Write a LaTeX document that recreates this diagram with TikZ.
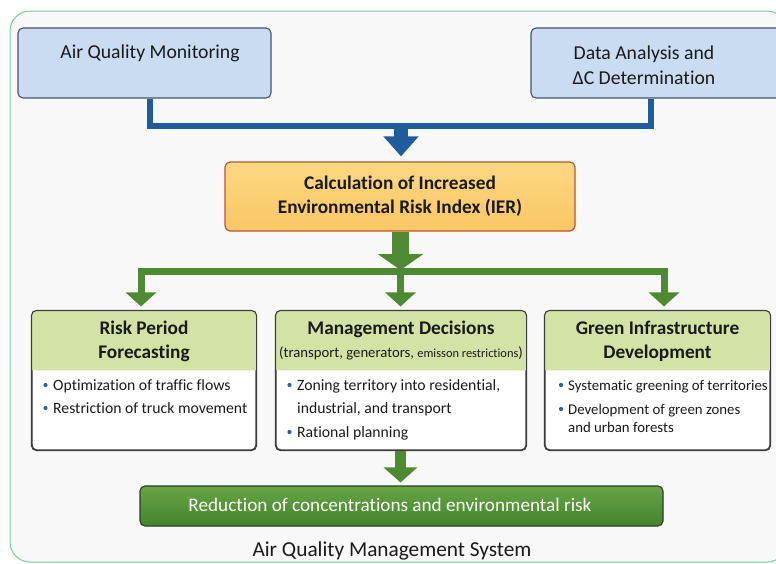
\documentclass[tikz,border=0pt]{standalone}
\usepackage{fontspec}
\setmainfont{Carlito}[Ligatures=NoCommon]
\usetikzlibrary{arrows.meta,calc}
\definecolor{bluefill}{HTML}{C9DCF2}
\definecolor{bluebord}{HTML}{465363}
\definecolor{blueline}{HTML}{1E5C9E}
\definecolor{iertop}{HTML}{FCD882}
\definecolor{ierbot}{HTML}{F9C664}
\definecolor{ierbord}{HTML}{C0522E}
\definecolor{gline}{HTML}{4E8A31}
\definecolor{hdr}{HTML}{D3E3A6}
\definecolor{redtop}{HTML}{66A545}
\definecolor{redbot}{HTML}{44842C}
\definecolor{redbord}{HTML}{2B3F1F}
\definecolor{framec}{HTML}{76D196}
\definecolor{bgc}{HTML}{F8F8F8}
\definecolor{bul}{HTML}{2F5F9E}
\definecolor{txtc}{HTML}{1A1A1A}
\tikzset{
  bluebox/.style={draw=bluebord, line width=1.1pt, fill=bluefill, rounded corners=5pt, inner sep=0pt},
  ierbox/.style={draw=ierbord, line width=1.2pt, top color=iertop, bottom color=ierbot, rounded corners=5pt, inner sep=0pt},
  wbox/.style={draw=txtc!85, line width=1.1pt, fill=white, rounded corners=5pt, inner sep=0pt, minimum height=139pt},
  redbox/.style={draw=redbord, line width=1.1pt, top color=redtop, bottom color=redbot, rounded corners=5pt, inner sep=0pt},
  txt/.style={text=txtc, inner sep=0pt, align=center},
  bigt/.style={txt, font=\fontsize{19.7}{25}\selectfont},
  headt/.style={txt, font=\bfseries\fontsize{19.3}{24}\selectfont},
  bult/.style={text=txtc, inner sep=0pt, anchor=base west, font=\fontsize{15.7}{17}\selectfont},
  bultr/.style={bult, font=\fontsize{14.8}{17}\selectfont},
  bdot/.style={circle, fill=bul, inner sep=0pt, minimum size=4.2pt},
  bluebar/.style={draw=blueline, line width=6pt},
  gbar/.style={draw=gline, line width=7pt},
}
\begin{document}
\begin{tikzpicture}[x=1pt,y=-1pt]
\useasboundingbox (0,0) rectangle (776,563);
\fill[white] (0,0) rectangle (776,563);
\draw[framec, line width=1pt, fill=bgc, rounded corners=20pt] (10,11) rectangle (787,562);

% top boxes
\node[bluebox, minimum width=253pt, minimum height=70pt] (aqm) at (144.5,63) {};
\node[bigt] (aqmt) at (150,53) {Air Quality Monitoring};
\node[bluebox, minimum width=259pt, minimum height=70pt] (dat) at (660.5,63) {};
\node[bigt] (datt) at (644,65) {Data Analysis and\\ΔC Determination};

% IER
\node[ierbox, minimum width=350pt, minimum height=69pt] (ier) at (400,196.5) {};
\node[headt] (iert) at (400,196) {Calculation of Increased\\Environmental Risk Index (IER)};

% blue connector
\coordinate (bj) at (401,125.5);
\draw[bluebar] ([xshift=5.5pt]aqm.south) |- (bj) -| ([xshift=-9.5pt]dat.south);
\draw[draw=blueline, line width=14pt, -{Triangle[width=34pt,length=20pt]}, shorten >=5pt] (bj) -- (bj |- ier.north);

% three boxes
\node[wbox, minimum width=224pt] (rp) at (144,380.5) {};
\node[wbox, minimum width=250pt] (md) at (401,380.5) {};
\node[wbox, minimum width=225pt] (gi) at (657.5,380.5) {};
\foreach \b in {rp,md,gi}{
  \fill[hdr] ([yshift=-60pt]\b.north west) [rounded corners=5pt] -- (\b.north west) -- (\b.north east) [sharp corners] -- ([yshift=-60pt]\b.north east) -- cycle;
  \draw[txtc!85, line width=1.1pt, rounded corners=5pt] (\b.north west) rectangle (\b.south east);
}
\node[headt] (rpt) at (144,341) {Risk Period\\Forecasting};
\node[headt] (mdt) at (401,329) {Management Decisions};
\node[txt, font=\fontsize{14.7}{17}\selectfont] (mds) at (401,353) {(transport, generators, {\fontsize{12.4}{14}\selectfont emisson restrictions})};
\node[headt] (git) at (657.5,341) {Green Infrastructure\\Development};

% bullets left
\node[bdot] (b1) at (45.5,385) {};
\node[bult] (l1) at (53,390) {Optimization of traffic flows};
\node[bdot] (b2) at (45.5,408) {};
\node[bult] (l2) at (53,413) {Restriction of truck movement};
% bullets middle
\node[bdot] (b3) at (289.5,385) {};
\node[bult] (m1) at (297,390) {Zoning territory into residential,};
\node[bult] (m2) at (297,413.5) {industrial, and transport};
\node[bdot] (b4) at (289.5,432) {};
\node[bult] (m3) at (297,437) {Rational planning};
% bullets right
\node[bdot] (b5) at (561,385) {};
\node[bultr] (r1) at (568,390) {Systematic greening of territories};
\node[bdot] (b6) at (561,409) {};
\node[bultr] (r2) at (568,414) {Development of green zones};
\node[bultr] (r3) at (568,432) {and urban forests};

% green connectors
\coordinate (gj) at (400.5,271.5);
\coordinate (sl) at (141,271.5);
\coordinate (sr) at (664,271.5);
\draw[gbar, line cap=rect] (sl) -- (sr);
\draw[gline, line width=17pt, -{Triangle[width=45pt,length=16pt]}, shorten >=1.5pt] (ier.south -| gj) -- (gj);
\foreach \c/\b in {sl/rp,gj/md,sr/gi}{
  \draw[gbar, -{Triangle[width=30pt,length=14pt]}, shorten >=4pt] (\c) -- (\c |- \b.north);
}

% bottom
\node[redbox, minimum width=523pt, minimum height=40pt] (red) at (401.5,506) {};
\node[txt, text=white, font=\fontsize{19.2}{22}\selectfont] (redt) at (390,505) {Reduction of concentrations and environmental risk};
\draw[gline, line width=11pt, -{Triangle[width=33pt,length=15pt]}, shorten >=3pt] (md.south -| gj) -- (gj |- red.north);

\node[txt, font=\fontsize{21.3}{24}\selectfont] (title) at (392,551) {Air Quality Management System};
\end{tikzpicture}
\end{document}
